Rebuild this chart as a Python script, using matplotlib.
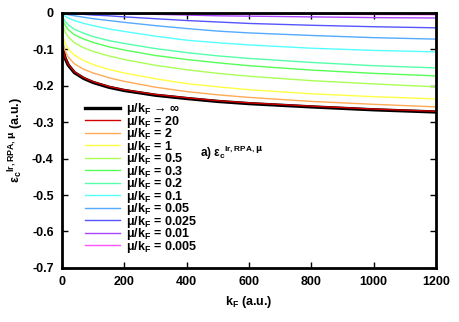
#!/usr/bin/env python3
"""Long-range RPA correlation energy per particle vs kF for several mu/kF."""
import matplotlib
matplotlib.use("Agg")
import matplotlib.pyplot as plt
from matplotlib.ticker import FuncFormatter, MultipleLocator

plt.rcParams["font.family"] = ["Liberation Sans", "DejaVu Sans"]
plt.rcParams["font.weight"] = "bold"
plt.rcParams["mathtext.fontset"] = "custom"
plt.rcParams["mathtext.rm"] = "Liberation Sans:bold"
plt.rcParams["mathtext.bf"] = "Liberation Sans:bold"
plt.rcParams["mathtext.it"] = "DejaVu Sans"
plt.rcParams["axes.unicode_minus"] = False

kf = [0.5, 1, 2, 5, 10, 20, 40, 70, 100, 150, 200, 300, 400, 500, 600, 800, 1000, 1200]

ratios = ["→ ∞", "= 20", "= 2", "= 1", "= 0.5", "= 0.3", "= 0.2", "= 0.1",
          "= 0.05", "= 0.025", "= 0.01", "= 0.005"]

ec_inf = [-0.070, -0.082, -0.095, -0.108, -0.124, -0.143, -0.164, -0.180, -0.191,
          -0.204, -0.213, -0.226, -0.235, -0.243, -0.249, -0.258, -0.266, -0.272]
ec_20 = [-0.068, -0.080, -0.093, -0.106, -0.122, -0.141, -0.162, -0.178, -0.189,
         -0.202, -0.211, -0.224, -0.233, -0.241, -0.247, -0.256, -0.264, -0.270]
ec_2 = [-0.050, -0.062, -0.075, -0.090, -0.104, -0.121, -0.140, -0.155, -0.165,
        -0.178, -0.188, -0.204, -0.216, -0.225, -0.232, -0.243, -0.251, -0.258]
ec_1 = [-0.035, -0.045, -0.056, -0.070, -0.083, -0.099, -0.116, -0.131, -0.142,
        -0.155, -0.165, -0.181, -0.194, -0.203, -0.211, -0.222, -0.230, -0.236]
ec_05 = [-0.012, -0.018, -0.027, -0.040, -0.052, -0.066, -0.082, -0.096, -0.106,
         -0.118, -0.128, -0.144, -0.156, -0.166, -0.174, -0.186, -0.195, -0.203]
ec_03 = [-0.006, -0.010, -0.016, -0.025, -0.034, -0.046, -0.060, -0.072, -0.081,
         -0.093, -0.102, -0.117, -0.128, -0.137, -0.145, -0.157, -0.166, -0.173]
ec_02 = [-0.004, -0.006, -0.010, -0.016, -0.023, -0.033, -0.045, -0.056, -0.065,
         -0.076, -0.084, -0.098, -0.109, -0.118, -0.125, -0.136, -0.145, -0.151]
ec_01 = [-0.001, -0.002, -0.003, -0.006, -0.009, -0.014, -0.021, -0.029, -0.035,
         -0.044, -0.051, -0.064, -0.075, -0.082, -0.088, -0.097, -0.103, -0.107]
ec_005 = [0.0, -0.0005, -0.001, -0.002, -0.003, -0.005, -0.008, -0.012, -0.016,
          -0.021, -0.026, -0.035, -0.043, -0.050, -0.055, -0.062, -0.068, -0.072]
ec_0025 = [0.0, 0.0, -0.0002, -0.0005, -0.001, -0.0015, -0.0025, -0.004, -0.006,
           -0.008, -0.011, -0.016, -0.021, -0.025, -0.029, -0.034, -0.038, -0.041]
ec_001 = [0.0, 0.0, 0.0, 0.0, 0.0, -0.0001, -0.0002, -0.0005, -0.001,
          -0.0015, -0.002, -0.004, -0.006, -0.008, -0.009, -0.011, -0.013, -0.014]
ec_0005 = [0.0, 0.0, 0.0, 0.0, 0.0, 0.0, 0.0, -0.0001, -0.0002,
           -0.0003, -0.0006, -0.001, -0.0015, -0.002, -0.003, -0.0035, -0.0045, -0.005]

series = [ec_inf, ec_20, ec_2, ec_1, ec_05, ec_03, ec_02, ec_01, ec_005, ec_0025, ec_001, ec_0005]
colors = ["black", "#d00000", "#ffaa55", "#ffff44", "#aaff55", "#55ff55", "#55ffaa",
          "#55ffff", "#55aaff", "#5555ff", "#aa44ff", "#ff55ff"]
widths = [2.4, 1.0, 1.0, 1.0, 1.0, 1.0, 1.0, 1.0, 1.0, 1.0, 1.0, 1.0]

fig = plt.figure(figsize=(4.59, 3.22), dpi=100)
ax = fig.add_axes([0.135, 0.168, 0.815, 0.792])

for vals, c, lw, r in zip(series, colors, widths, ratios):
    ax.plot(kf, vals, color=c, lw=lw, label=f"μ/k$_\\mathbf{{F}}$ {r}")

ax.set_xlim(0, 1200)
ax.set_ylim(-0.7, 0)
ax.xaxis.set_major_locator(MultipleLocator(200))
ax.yaxis.set_major_locator(MultipleLocator(0.1))
ax.yaxis.set_major_formatter(FuncFormatter(lambda v, p: "0" if abs(v) < 1e-9 else f"{v:.1f}"))
ax.tick_params(direction="in", top=True, right=True, length=4, width=1, labelsize=9, pad=6)
for s in ax.spines.values():
    s.set_linewidth(2)

ax.set_xlabel("k$_\\mathbf{F}$ (a.u.)", fontsize=9, fontweight="bold")
ax.set_ylabel("ε$_\\mathbf{c}$$^{\\mathbf{lr,RPA,}\\mu}$ (a.u.)", fontsize=9, fontweight="bold")
ax.text(0.37, 0.435, "a) ε$_\\mathbf{c}$$^{\\mathbf{lr,RPA,}\\mu}$", transform=ax.transAxes,
        fontsize=8.5, fontweight="bold")

leg = ax.legend(loc="upper left", bbox_to_anchor=(0.048, 0.673), frameon=False,
                fontsize=9, handlelength=2.8, handletextpad=0.5, labelspacing=-0.28,
                borderaxespad=0)

fig.savefig("out.png", dpi=100)
